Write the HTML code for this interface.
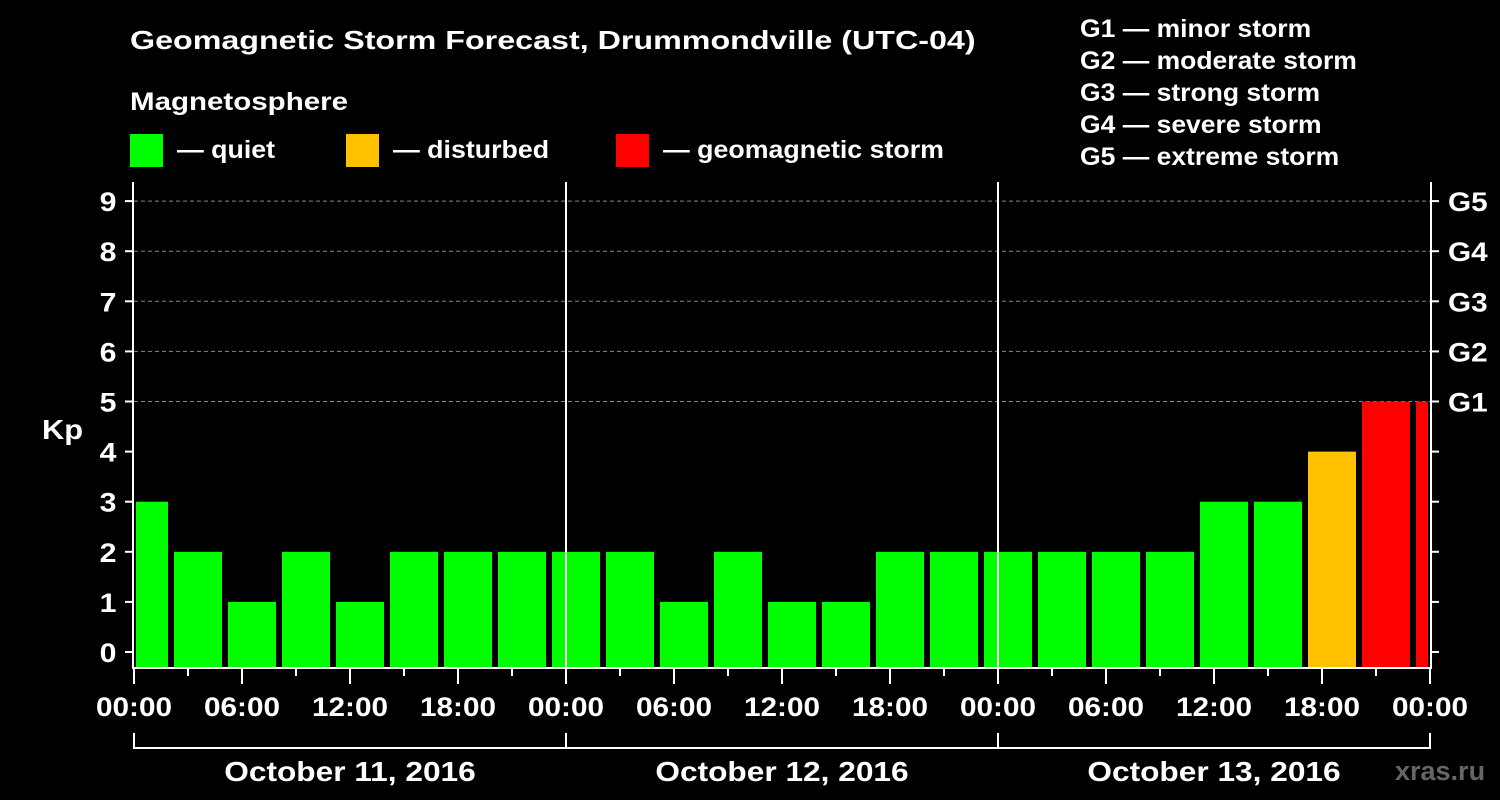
<!DOCTYPE html>
<html><head><meta charset="utf-8"><style>
body{margin:0;background:#000;width:1500px;height:800px;overflow:hidden}
svg{display:block;font-family:"Liberation Sans",sans-serif;font-weight:bold}
</style></head><body>
<svg id="c" width="1500" height="800">
<rect width="1500" height="800" fill="#000"/>
<text x="130" y="49" fill="#fff" font-size="26" data-sx="1.24">Geomagnetic Storm Forecast, Drummondville (UTC-04)</text>
<text x="130" y="110" fill="#fff" font-size="25" data-sx="1.18">Magnetosphere</text>
<g><rect x="130" y="134" width="33" height="33" fill="#00ff00"/><text x="177" y="158" fill="#fff" font-size="25" data-sx="1.07">— quiet</text></g>
<g><rect x="346" y="134" width="33" height="33" fill="#ffc000"/><text x="393" y="158" fill="#fff" font-size="25" data-sx="1.07">— disturbed</text></g>
<g><rect x="616" y="134" width="33" height="33" fill="#ff0000"/><text x="663" y="158" fill="#fff" font-size="25" data-sx="1.07">— geomagnetic storm</text></g>
<g fill="#fff" font-size="25">
<text x="1080" y="37" data-sx="1.06">G1 — minor storm</text><text x="1080" y="69" data-sx="1.06">G2 — moderate storm</text><text x="1080" y="101" data-sx="1.06">G3 — strong storm</text><text x="1080" y="133" data-sx="1.06">G4 — severe storm</text><text x="1080" y="165" data-sx="1.06">G5 — extreme storm</text></g>
<text x="42" y="439" fill="#fff" font-size="28" data-sx="1.1">Kp</text>
<text x="1395" y="780" fill="#666" font-size="27">xras.ru</text>
<g id="g"></g>
</svg>
<script>
const values=[3,2,1,2,1,2,2,2,2,2,1,2,1,1,2,2,2,2,2,2,3,3,4,5,5];
const yTicks=[0,1,2,3,4,5,6,7,8,9];
const gLabels=["G1","G2","G3","G4","G5"];
const xLabels=["00:00","06:00","12:00","18:00","00:00","06:00","12:00","18:00","00:00","06:00","12:00","18:00","00:00"];
const dayLabels=["October 11, 2016","October 12, 2016","October 13, 2016"];
const X0=134,PXH=18,Y0=652,PXU=50.1,BOT=668,TOP=182,RIGHT=1430;
const xs=h=>X0+h*PXH, ys=v=>Y0-v*PXU;
const g=document.getElementById('g'),NS='http://www.w3.org/2000/svg';
function mk(t,a,txt){const e=document.createElementNS(NS,t);for(const k in a)e.setAttribute(k,a[k]);if(txt!=null)e.textContent=txt;g.appendChild(e);return e;}
for(let v=5;v<=9;v++){const e=mk('line',{x1:X0,x2:RIGHT,y1:ys(v),y2:ys(v),stroke:'#888','stroke-dasharray':'4,3','stroke-width':1});

}
values.forEach((v,i)=>{const c=3*i+0.5556;let x1=xs(c)-24,x2=xs(c)+24;x1=Math.max(x1,X0+2);x2=Math.min(x2,RIGHT-2);
const col=v>=5?'#ff0000':v>=4?'#ffc000':'#00ff00';
const e=mk('rect',{x:x1,y:ys(v),width:x2-x1,height:BOT-1-ys(v),fill:col});

});
[1,2].forEach(d=>{const e=mk('line',{x1:xs(24*d),x2:xs(24*d),y1:TOP,y2:BOT,stroke:'#fff','stroke-width':2});

});
const f=mk('path',{d:`M${X0-1} ${TOP}V${BOT}H${RIGHT+1}V${TOP}`,stroke:'#fff','stroke-width':2,fill:'none'});


yTicks.forEach(v=>{const y=ys(v);mk('line',{x1:X0-9,x2:X0,y1:y,y2:y,stroke:'#fff','stroke-width':2});
mk('line',{x1:RIGHT,x2:RIGHT+9,y1:y,y2:y,stroke:'#fff','stroke-width':2});
const t=mk('text',{x:X0-26,y:y+10,fill:'#fff','font-size':27,'text-anchor':'middle','data-sx':1.12},String(v));

});
gLabels.forEach((l,i)=>{const t=mk('text',{x:1448,y:ys(5+i)+10,fill:'#fff','font-size':27,'data-sx':1.1},l);

});
for(let h=0;h<=72;h+=3){const maj=h%6==0;mk('line',{x1:xs(h),x2:xs(h),y1:BOT,y2:BOT+(maj?16:8),stroke:'#fff','stroke-width':2});}
xLabels.forEach((l,i)=>{const t=mk('text',{x:xs(6*i),y:716,fill:'#fff','font-size':27,'text-anchor':'middle','data-sx':1.1},l);

});
const b=mk('path',{d:`M${xs(0)} 733V748H${xs(72)}V733M${xs(24)} 733V748M${xs(48)} 733V748`,stroke:'#fff','stroke-width':2,fill:'none'});


dayLabels.forEach((l,i)=>{const t=mk('text',{x:xs(24*i+12),y:781,fill:'#fff','font-size':28,'text-anchor':'middle','data-sx':1.13},l);

});
document.querySelectorAll('text[data-sx]').forEach(t=>{const w=t.getComputedTextLength()*parseFloat(t.getAttribute('data-sx'));
t.setAttribute('textLength',w);t.setAttribute('lengthAdjust','spacingAndGlyphs');});
</script>
</body></html>
